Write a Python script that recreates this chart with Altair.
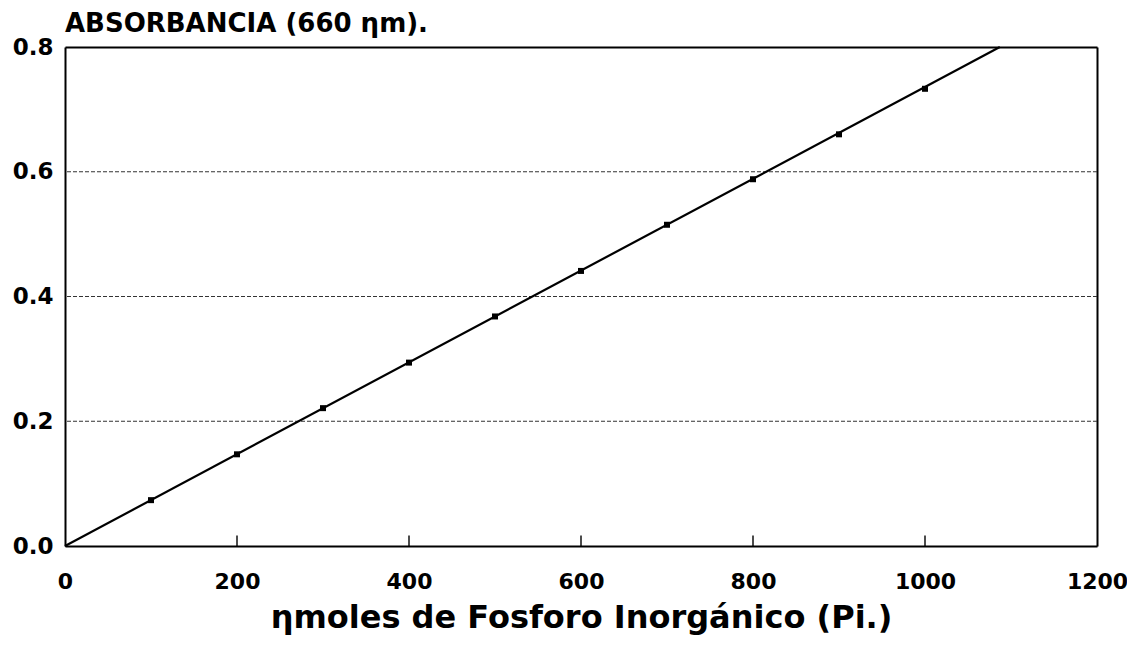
import altair as alt
import pandas as pd

# Measured points (nmoles Pi vs absorbance at 660 nm)
x_vals = [100, 200, 300, 400, 500, 600, 700, 800, 900, 1000]
y_vals = [0.0735, 0.147, 0.221, 0.294, 0.368, 0.441, 0.515, 0.588, 0.660, 0.733]

# Fitted straight line (through origin, reaching 0.8 near 1087)
fit_x = [0, 1087]
fit_y = [0.0, 0.8]

# Axis ticks
x_ticks = [0, 200, 400, 600, 800, 1000, 1200]
y_ticks = [0.0, 0.2, 0.4, 0.6, 0.8]
inner_ticks = [200, 400, 600, 800, 1000]
grid_vals = [0.2, 0.4, 0.6]

FONT = "DejaVu Sans"

pts = pd.DataFrame({"x": x_vals, "y": y_vals})
fit = pd.DataFrame({"x": fit_x, "y": fit_y})
tk = pd.DataFrame({"x": inner_ticks})
gr = pd.DataFrame({"y": grid_vals})

xscale = alt.Scale(domain=[0, 1200], nice=False, zero=True)
yscale = alt.Scale(domain=[0, 0.8], nice=False, zero=True)

xaxis = alt.Axis(
    values=x_ticks, format="d", ticks=False, grid=False, domain=True,
    domainColor="black", domainWidth=2,
    labelFont=FONT, labelFontSize=22, labelFontWeight="bold", labelColor="black",
    labelPadding=25, labelFlush=False,
    title="ηmoles de Fosforo Inorgánico (Pi.)",
    titleFont=FONT, titleFontSize=32, titleFontWeight="bold", titleColor="black",
    titlePadding=10,
)
yaxis = alt.Axis(
    values=y_ticks, format=".1f", ticks=False, domain=True,
    domainColor="black", domainWidth=2, grid=False,
    labelFont=FONT, labelFontSize=23, labelFontWeight="bold", labelColor="black",
    labelPadding=12, labelFlush=False,
    title=None,
)
# Frame lines on the top and right sides
xaxis_top = alt.Axis(orient="top", labels=False, ticks=False, grid=False, title=None,
                     domain=True, domainColor="black", domainWidth=2)
yaxis_right = alt.Axis(orient="right", labels=False, ticks=False, grid=False, title=None,
                       domain=True, domainColor="black", domainWidth=2)

grid = alt.Chart(gr).mark_rule(color="#333333", strokeWidth=1, strokeDash=[4, 2]).encode(
    y=alt.Y("y:Q", scale=yscale, axis=yaxis),
)

line = alt.Chart(fit).mark_line(color="black", strokeWidth=2.2).encode(
    x=alt.X("x:Q", scale=xscale, axis=xaxis),
    y=alt.Y("y:Q", scale=yscale, axis=None),
)

points = alt.Chart(pts).mark_square(color="black", size=36, opacity=1).encode(
    x=alt.X("x:Q", scale=xscale, axis=xaxis_top),
    y=alt.Y("y:Q", scale=yscale, axis=yaxis_right),
)

ticks = alt.Chart(tk).mark_tick(color="black", thickness=2, size=11, orient="vertical").encode(
    x=alt.X("x:Q", scale=xscale, axis=None),
    y=alt.value(494),
)

chart = (
    alt.layer(grid, line, points, ticks)
    .resolve_axis(x="independent", y="independent")
    .properties(
        width=1032,
        height=499,
        title=alt.TitleParams(
            "ABSORBANCIA (660 ηm).",
            anchor="start", frame="group",
            font=FONT, fontSize=26, fontWeight="bold", color="black",
            baseline="alphabetic", offset=2, dy=24,
        ),
        autosize=alt.AutoSizeParams(type="none"),
        padding={"left": 57, "top": 39, "right": 30, "bottom": 92},
    )
    .configure_view(stroke=None)
    .configure(background="white")
)

chart.save("out.html", embed_options={"renderer": "svg", "actions": False})
